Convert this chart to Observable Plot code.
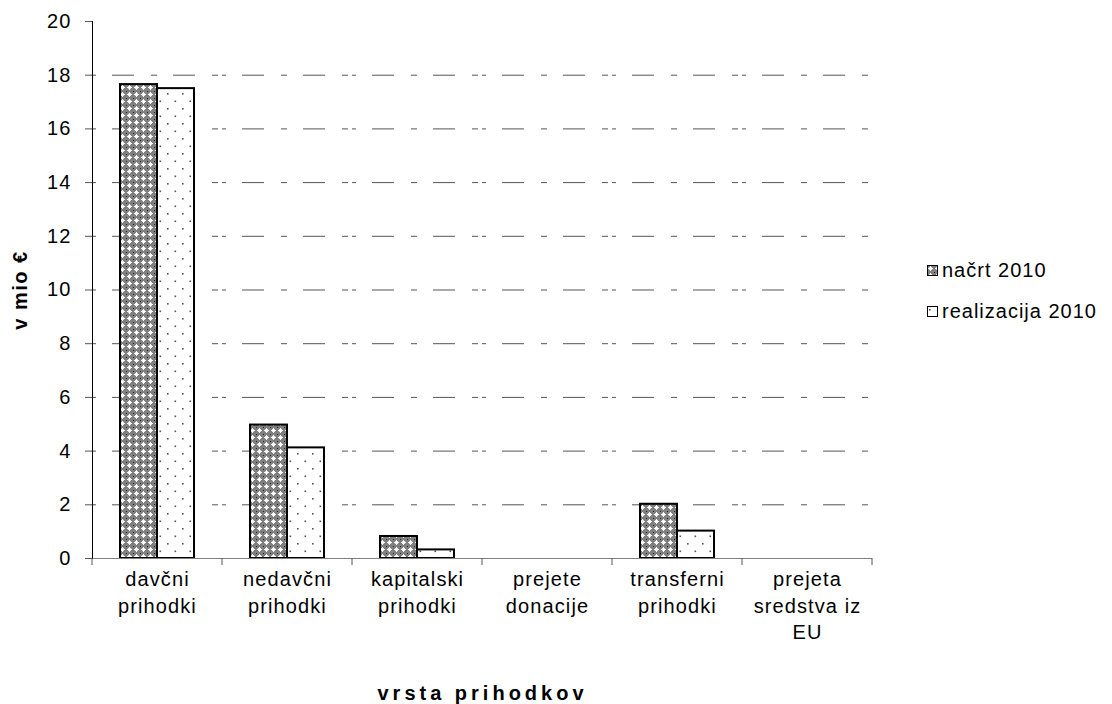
<!DOCTYPE html>
<html><head><meta charset="utf-8">
<script src="https://cdn.jsdelivr.net/npm/d3@7"></script>
<script src="https://cdn.jsdelivr.net/npm/@observablehq/plot@0.6"></script>
<style>
body{margin:0;background:#fff;font-family:"Liberation Sans",Arial,sans-serif}
#wrap{position:relative;width:1112px;height:704px}
#legend{position:absolute;left:927px;top:257px;font-size:20px;letter-spacing:1px;color:#000}
#legend .it{display:flex;align-items:center;height:27px;margin-bottom:14px;white-space:nowrap}
#legend svg{margin-right:4px}
</style></head><body><div id="wrap"></div>
<script>
const categories = ["davčni\nprihodki","nedavčni\nprihodki","kapitalski\nprihodki","prejete\ndonacije","transferni\nprihodki","prejeta\nsredstva iz\nEU"];
const series = ["načrt 2010","realizacija 2010"];
const nacrt = [17.65, 4.97, 0.82, 0, 2.02, 0];
const realizacija = [17.5, 4.12, 0.32, 0, 1.02, 0];
const yTicks = [0,2,4,6,8,10,12,14,16,18,20];
const gridTicks = [2,4,6,8,10,12,14,16,18];
const patternIds = ["pNacrt","pReal"];

const rows = categories.flatMap((c,i)=>[
  {cat:c, series:series[0], value:nacrt[i]},
  {cat:c, series:series[1], value:realizacija[i]}
]);

const plot = Plot.plot({
  width:1112, height:704,
  marginTop:21, marginLeft:92, marginRight:240, marginBottom:146,
  style:{fontFamily:"'Liberation Sans', Arial, sans-serif", fontSize:"20px", color:"#000", background:"#fff", overflow:"visible"},
  fx:{domain:categories, padding:0, label:null},
  x:{domain:series, paddingInner:0, paddingOuter:0.73, axis:null},
  y:{domain:[0,20]},
  color:{domain:series, range:patternIds.map(id=>`url(#${id})`)},
  marks:[
    Plot.gridY(gridTicks,{stroke:"#555", strokeOpacity:1, strokeWidth:1, strokeDasharray:"22,17,6,16", strokeDashoffset:-20}),
    Plot.barY(rows,{fx:"cat", x:"series", y:"value", fill:"series", stroke:"#000", strokeWidth:2,
      strokeOpacity:d=>d.value>0?1:0, fillOpacity:d=>d.value>0?1:0}),
    Plot.ruleY([0],{stroke:"#808080", strokeWidth:1}),
    Plot.axisY(yTicks,{tickSize:7, tickPadding:14, stroke:"#555", label:"v mio €", labelAnchor:"center", labelOffset:80, labelArrow:"none"}),
    Plot.axisFx({anchor:"bottom", tickSize:0, tickPadding:9, lineHeight:1.32, label:"vrsta prihodkov", labelAnchor:"center", labelOffset:141, labelArrow:"none"}),
    Plot.frame({anchor:"left", facetAnchor:"left", stroke:"#000", strokeWidth:1})
  ]
});

const svg = d3.select(plot);
const defs = svg.insert("defs",":first-child");
const p1 = defs.append("pattern").attr("id","pNacrt").attr("patternUnits","userSpaceOnUse").attr("width",7).attr("height",7);
p1.append("rect").attr("width",7).attr("height",7).attr("fill","#808080");
p1.append("rect").attr("x",3).attr("y",1).attr("width",1).attr("height",5).attr("fill","#fff");
p1.append("rect").attr("x",1).attr("y",3).attr("width",5).attr("height",1).attr("fill","#fff");
p1.append("rect").attr("x",0).attr("y",0).attr("width",1).attr("height",1).attr("fill","#222");
p1.append("rect").attr("x",2).attr("y",2).attr("width",1).attr("height",1).attr("fill","#e8e8e8");
p1.append("rect").attr("x",4).attr("y",4).attr("width",1).attr("height",1).attr("fill","#e8e8e8");
p1.append("rect").attr("x",2).attr("y",4).attr("width",1).attr("height",1).attr("fill","#e8e8e8");
p1.append("rect").attr("x",4).attr("y",2).attr("width",1).attr("height",1).attr("fill","#e8e8e8");
const p2 = defs.append("pattern").attr("id","pReal").attr("patternUnits","userSpaceOnUse").attr("width",15).attr("height",15);
p2.append("rect").attr("width",15).attr("height",15).attr("fill","#fff");
p2.append("rect").attr("x",2).attr("y",3).attr("width",1.6).attr("height",1.6).attr("fill","#555");
p2.append("rect").attr("x",9.5).attr("y",10.5).attr("width",1.6).attr("height",1.6).attr("fill","#555");

svg.style("letter-spacing","1.1px");
const labs = svg.selectAll('g[aria-label="y-axis label"] text, g[aria-label="fx-axis label"] text');
labs.style("font-weight","bold").style("font-size","20px");
labs.each(function(){ const t=d3.select(this); t.text(t.text().replace(/[\u2190-\u2193]/g,"").trim()); });
svg.selectAll('g[aria-label="y-axis label"] text').style("letter-spacing","1.5px");
svg.selectAll('g[aria-label="fx-axis label"] text').style("letter-spacing","4px");

const fx = plot.scale("fx");
const y0 = plot.scale("y").apply(0);
const edges = categories.map(c=>fx.apply(c)).concat([fx.apply(categories[categories.length-1]) + fx.bandwidth]);
svg.append("g").attr("aria-label","fx-ticks").selectAll("line").data(edges).join("line")
  .attr("x1",d=>d).attr("x2",d=>d).attr("y1",y0).attr("y2",y0+7).attr("stroke","#555");

const wrap = document.getElementById("wrap");
wrap.appendChild(plot);

const legend = d3.select(wrap).append("div").attr("id","legend");
series.forEach((s,i)=>{
  const it = legend.append("div").attr("class","it");
  const sw = it.append("svg").attr("width",11).attr("height",11);
  sw.append("rect").attr("x",0.5).attr("y",0.5).attr("width",10).attr("height",10)
    .attr("fill",`url(#${patternIds[i]})`).attr("stroke","#000").attr("stroke-width",1);
  it.append("span").text(s);
});
</script>
</body></html>
